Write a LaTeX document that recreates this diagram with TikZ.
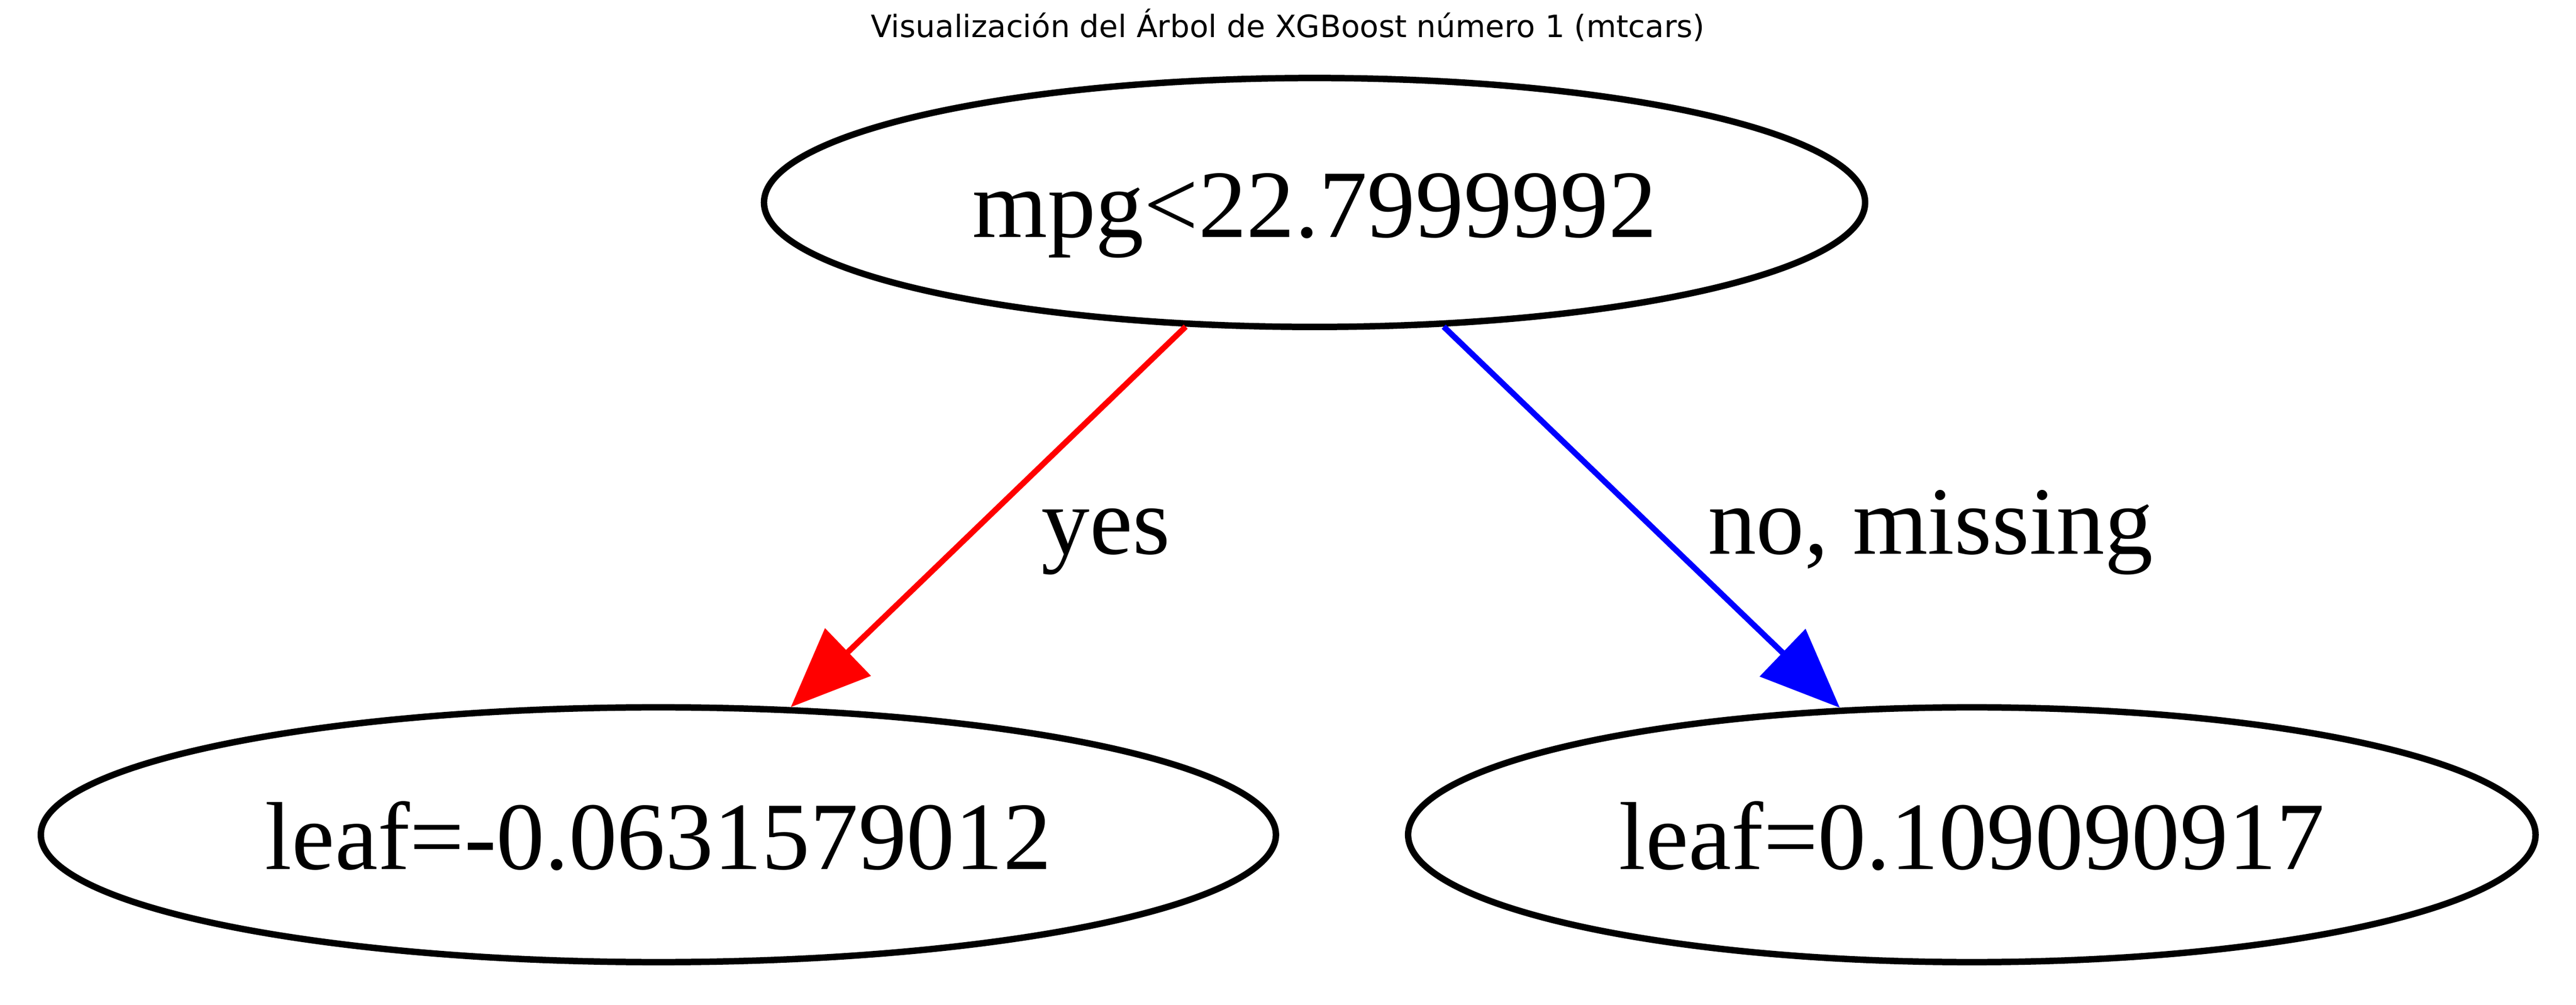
\documentclass[tikz,border=0pt]{standalone}
\usepackage{fontspec}
\setmainfont{Liberation Serif}
\newfontfamily\titlefont{DejaVu Sans}
\usetikzlibrary{shapes.geometric, arrows.meta}

\begin{document}
\begin{tikzpicture}[x=1cm, y=1cm,
		ellnode/.style={draw, ellipse, line width=5pt, inner sep=0pt, text depth=0pt, text height=54pt, font=\fontsize{75pt}{80pt}\selectfont},
		edgelbl/.style={anchor=base, font=\fontsize{75pt}{80pt}\selectfont},
		edgearrow/.style={-{Triangle[length=2.17cm, width=1.77cm]}, line width=4.5pt}]

				\useasboundingbox (0,0) rectangle (70.35,-27.44);

				\node[anchor=base, font=\titlefont\fontsize{23.9pt}{28pt}\selectfont] (title) at (35.17,-1.02) {Visualización del Árbol de XGBoost número 1 (mtcars)};

				\node[ellnode, minimum width=30.07cm, minimum height=6.80cm] (root) at (35.90,-5.53) {mpg<22.7999992};
				\node[ellnode, minimum width=33.73cm, minimum height=6.96cm] (leafL) at (17.98,-22.80) {leaf=-0.0631579012};
				\node[ellnode, minimum width=30.79cm, minimum height=6.96cm] (leafR) at (53.85,-22.80) {leaf=0.109090917};

				\draw[edgearrow, red] (root) -- (leafL);
				\node[edgelbl] (yes) at (30.20,-15.13) {yes};

				\draw[edgearrow, blue] (root) -- (leafR);
				\node[edgelbl] (nomiss) at (52.72,-15.13) {no, missing};

\end{tikzpicture}
\end{document}
